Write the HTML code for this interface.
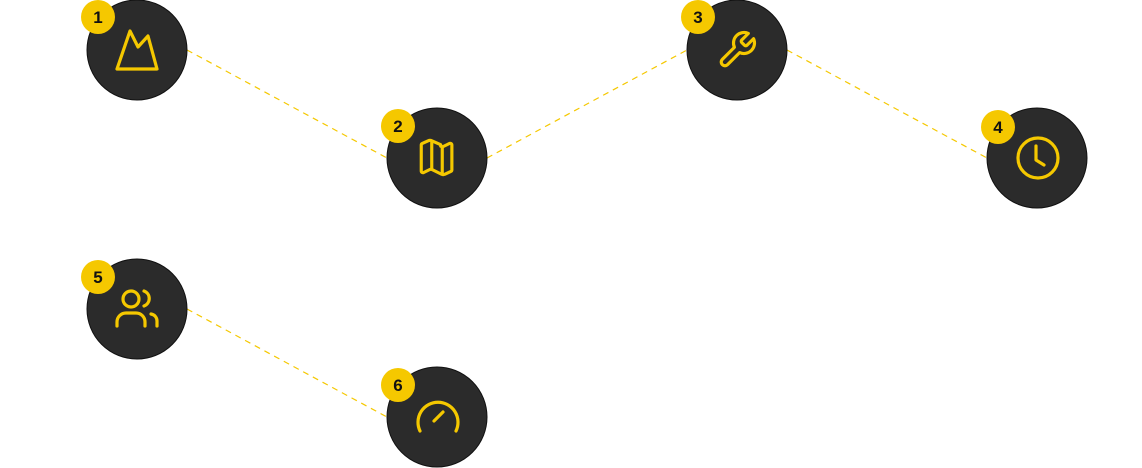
<!DOCTYPE html>
<html><head><meta charset="utf-8"><style>
html,body{margin:0;padding:0;background:#fff;width:1142px;height:468px;overflow:hidden}
text{font-family:"Liberation Sans",sans-serif;font-weight:bold;font-size:17px}
</style></head><body>
<svg width="1142" height="468" viewBox="0 0 1142 468" xmlns="http://www.w3.org/2000/svg">
<g stroke="#f5c800" stroke-width="1.2" stroke-dasharray="6 5" fill="none">
<line x1="187" y1="50" x2="387" y2="158"/>
<line x1="487" y1="158" x2="687" y2="50"/>
<line x1="787" y1="50" x2="987" y2="158"/>
<line x1="187" y1="309" x2="387" y2="417"/>
</g>
<g fill="#2b2b2b" stroke="#111" stroke-width="1">
<circle cx="137" cy="50" r="50"/>
<circle cx="437" cy="158" r="50"/>
<circle cx="737" cy="50" r="50"/>
<circle cx="1037" cy="158" r="50"/>
<circle cx="137" cy="309" r="50"/>
<circle cx="437" cy="417" r="50"/>
</g>
<g fill="none" stroke="#f5c800" stroke-width="3.2" stroke-linecap="round" stroke-linejoin="round">
<!-- mountain -->
<polyline points="117,69 130,31 138,47 148,36 157,69 117,69"/>
<!-- map -->
<g transform="translate(416,137) scale(1.75)"><path d="M14.1 4.4 8.9 2.1a2 2 0 0 0-1.8 0L3.6 3.7A1 1 0 0 0 3 4.6v14.8a1 1 0 0 0 1.4.9l3.2-1.6a2 2 0 0 1 1.8 0l5.2 2.6a2 2 0 0 0 1.8 0l3.5-1.6a1 1 0 0 0 .6-.9V4.6a1 1 0 0 0-1.4-.9l-3.2 1.6a2 2 0 0 1-1.8 0z" stroke-width="1.8"/><path d="M15 5.8v15M9 3.2v15" stroke-width="1.8"/></g>
<!-- wrench -->
<g transform="translate(716,29) scale(1.75)"><path d="M14.7 6.3a1 1 0 0 0 0 1.4l1.6 1.6a1 1 0 0 0 1.4 0l3.77-3.77a6 6 0 0 1-7.94 7.94l-6.91 6.91a2.12 2.12 0 0 1-3-3l6.91-6.91a6 6 0 0 1 7.94-7.94l-3.76 3.76z" stroke-width="1.8"/></g>
<!-- clock -->
<circle cx="1038" cy="158" r="20"/>
<polyline points="1036,146 1036,160 1044,165"/>
<!-- users -->
<circle cx="131" cy="299" r="8"/>
<path d="M117,326 v-4 a9,9 0 0 1 9,-9 h10 a9,9 0 0 1 9,9 v4"/>
<path d="M144,291 a8,8 0 0 1 0,15"/>
<path d="M151,314 a7,7 0 0 1 6,7 v5"/>
<!-- gauge -->
<path d="M420,431 A20,20 0 1 1 456,431"/>
<line x1="434" y1="421" x2="443" y2="412"/>
</g>
<g fill="#f5c800">
<circle cx="98" cy="17" r="17"/>
<circle cx="398" cy="126" r="17"/>
<circle cx="698" cy="17" r="17"/>
<circle cx="998" cy="127" r="17"/>
<circle cx="98" cy="277" r="17"/>
<circle cx="398" cy="385" r="17"/>
</g>
<g fill="#111" text-anchor="middle">
<text x="98" y="23">1</text>
<text x="398" y="132">2</text>
<text x="698" y="23">3</text>
<text x="998" y="133">4</text>
<text x="98" y="283">5</text>
<text x="398" y="391">6</text>
</g>
</svg>
</body></html>
